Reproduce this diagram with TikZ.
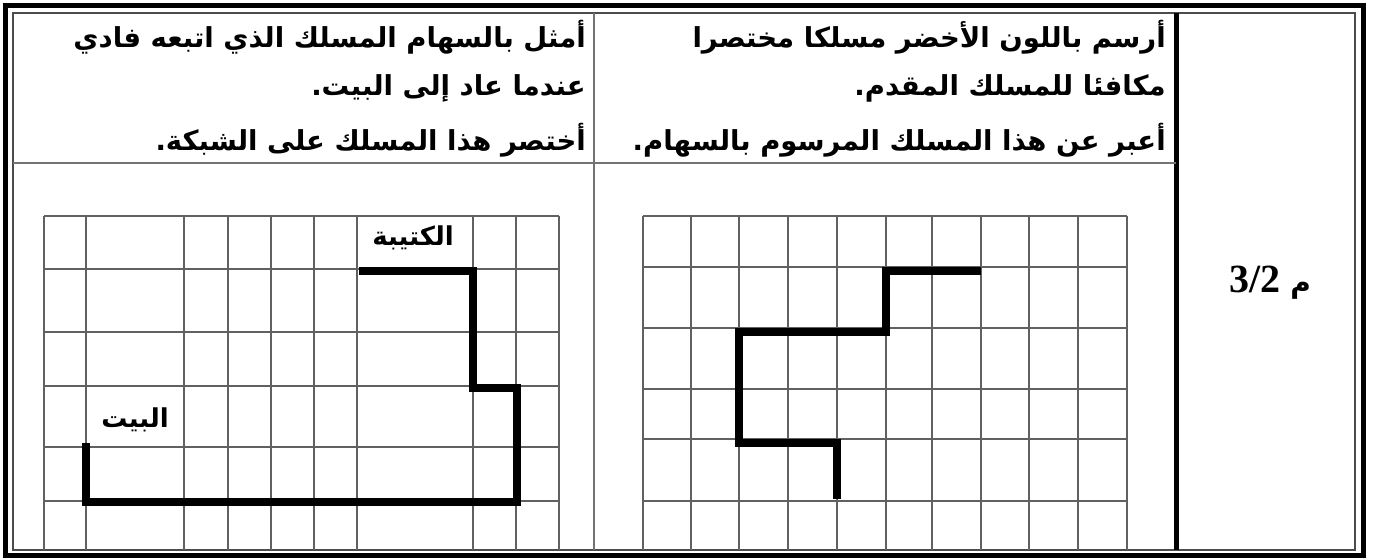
\documentclass[tikz,border=0pt]{standalone}
\usepackage{fontspec}
\setmainfont{Liberation Serif}
\newfontfamily\arabicfont[Script=Arabic]{DejaVu Sans}
\TeXXeTstate=1
\begin{document}
\begin{tikzpicture}[x=1pt,y=-1pt,
  gridline/.style={draw=black!62, line width=1.6pt},
  thinline/.style={draw=black!55, line width=2pt},
  pathline/.style={draw=black, line width=7.5pt, line join=miter, line cap=butt},
  headtext/.style={anchor=east, inner sep=0pt, font=\arabicfont\bfseries\fontsize{27.5}{32}\selectfont},
  labeltext/.style={inner sep=0pt, font=\arabicfont\bfseries\fontsize{26}{30}\selectfont}]
\useasboundingbox[fill=white] (0,0) rectangle (1373,558);
% frame
\draw[black, line width=5pt] (5,5) rectangle (1363,555);
\draw[black!70, line width=1.8pt] (13,13) rectangle (1355,550);
\draw[black, line width=5pt] (1176,13) -- (1176,550);
\draw[thinline] (594,13) -- (594,550);
\draw[thinline] (13,163) -- (1176,163);
% left header
\node[headtext] (l1) at (586,37) {\beginR أمثل بالسهام المسلك الذي اتبعه فادي\endR};
\node[headtext] (l2) at (586,88) {\beginR عندما عاد إلى البيت.\endR};
\node[headtext] (l3) at (586,140) {\beginR أختصر هذا المسلك على الشبكة.\endR};
% right header
\node[headtext] (r1) at (1166,37) {\beginR أرسم باللون الأخضر مسلكا مختصرا\endR};
\node[headtext] (r2) at (1166,88) {\beginR مكافئا للمسلك المقدم.\endR};
\node[headtext] (r3) at (1166,140) {\beginR أعبر عن هذا المسلك المرسوم بالسهام.\endR};
% label cell
\node[inner sep=0pt] (num) at (1270,283) {\fontsize{40}{40}\selectfont\bfseries 3/2 {\arabicfont\fontsize{28}{30}\selectfont م}};
% left grid
\foreach \x in {44,86,184,228,271,314,357,473,516,559} \draw[gridline] (\x,216) -- (\x,550);
\foreach \y in {216,269,332,386,447,501} \draw[gridline] (44,\y) -- (559,\y);
% right grid
\foreach \x in {643,691,739,788,837,886,932,981,1029,1078,1127} \draw[gridline] (\x,216) -- (\x,550);
\foreach \y in {216,267,328,389,439,501} \draw[gridline] (643,\y) -- (1127,\y);
% left path
\coordinate (a1) at (359,271);
\coordinate (a2) at (473,271);
\coordinate (a3) at (473,388);
\coordinate (a4) at (517,388);
\coordinate (a5) at (517,502);
\coordinate (a6) at (86,502);
\coordinate (a7) at (86,443);
\draw[pathline] (a1) -- (a2) -- (a3) -- (a4) -- (a5) -- (a6) -- (a7);
\node[labeltext] (kt) at (413,238) {\beginR الكتيبة\endR};
\node[labeltext] (bt) at (135,420) {\beginR البيت\endR};
% right path
\coordinate (b1) at (981,271);
\coordinate (b2) at (886,271);
\coordinate (b3) at (886,332);
\coordinate (b4) at (739,332);
\coordinate (b5) at (739,443);
\coordinate (b6) at (837,443);
\coordinate (b7) at (837,499);
\draw[pathline] (b1) -- (b2) -- (b3) -- (b4) -- (b5) -- (b6) -- (b7);
\end{tikzpicture}
\end{document}
